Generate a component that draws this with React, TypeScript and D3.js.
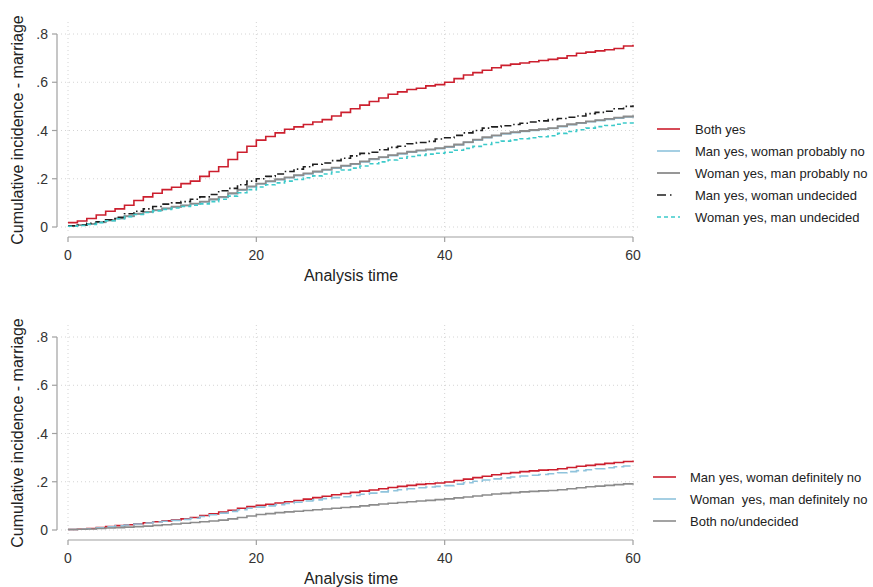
import React from "react";
import * as d3 from "d3";

const months = d3.range(0, 61);

const topBothYes = [0.018,0.025,0.035,0.05,0.065,0.075,0.09,0.11,0.125,0.14,0.155,0.165,0.18,0.19,0.21,0.23,0.25,0.28,0.31,0.335,0.36,0.375,0.39,0.405,0.415,0.425,0.435,0.445,0.46,0.475,0.49,0.505,0.52,0.535,0.55,0.56,0.57,0.575,0.585,0.59,0.6,0.615,0.63,0.64,0.65,0.66,0.67,0.675,0.68,0.685,0.69,0.695,0.7,0.71,0.72,0.725,0.73,0.735,0.74,0.75,0.755];
const topManYesWomanProbNo = [0.004,0.007,0.012,0.019,0.027,0.035,0.044,0.054,0.062,0.069,0.076,0.083,0.089,0.096,0.104,0.113,0.123,0.138,0.153,0.166,0.178,0.188,0.196,0.204,0.213,0.22,0.228,0.236,0.244,0.252,0.26,0.27,0.28,0.288,0.296,0.303,0.31,0.316,0.32,0.325,0.331,0.34,0.35,0.36,0.37,0.378,0.386,0.391,0.396,0.4,0.404,0.408,0.416,0.424,0.43,0.436,0.441,0.446,0.451,0.456,0.461];
const topWomanYesManProbNo = [0.005,0.008,0.013,0.02,0.028,0.036,0.045,0.055,0.063,0.07,0.077,0.084,0.09,0.097,0.105,0.115,0.125,0.14,0.155,0.168,0.18,0.19,0.198,0.206,0.215,0.222,0.23,0.238,0.246,0.254,0.262,0.272,0.282,0.29,0.298,0.305,0.312,0.318,0.322,0.327,0.333,0.342,0.352,0.362,0.372,0.38,0.388,0.393,0.398,0.402,0.406,0.41,0.418,0.426,0.432,0.438,0.443,0.448,0.453,0.458,0.463];
const topManYesWomanUndecided = [0.005,0.008,0.015,0.022,0.03,0.04,0.055,0.065,0.075,0.085,0.095,0.1,0.105,0.115,0.125,0.135,0.15,0.16,0.175,0.19,0.2,0.21,0.22,0.23,0.24,0.25,0.26,0.265,0.275,0.285,0.295,0.305,0.31,0.32,0.33,0.335,0.345,0.35,0.355,0.365,0.37,0.38,0.39,0.4,0.41,0.415,0.42,0.425,0.43,0.435,0.44,0.445,0.45,0.455,0.46,0.47,0.475,0.48,0.49,0.5,0.505];
const topWomanYesManUndecided = [0.003,0.006,0.011,0.018,0.026,0.034,0.043,0.052,0.06,0.067,0.073,0.079,0.085,0.09,0.096,0.105,0.115,0.128,0.142,0.155,0.166,0.175,0.183,0.19,0.197,0.204,0.212,0.22,0.228,0.236,0.244,0.253,0.262,0.27,0.278,0.285,0.292,0.297,0.302,0.306,0.31,0.318,0.326,0.334,0.342,0.35,0.356,0.361,0.366,0.37,0.374,0.378,0.388,0.396,0.403,0.41,0.416,0.421,0.426,0.431,0.436];

const botManYesWomanDefNo = [0.002,0.003,0.006,0.01,0.014,0.018,0.022,0.026,0.03,0.034,0.038,0.042,0.046,0.052,0.06,0.067,0.074,0.082,0.09,0.097,0.102,0.107,0.112,0.117,0.122,0.128,0.134,0.14,0.146,0.151,0.156,0.161,0.166,0.171,0.176,0.181,0.185,0.189,0.192,0.195,0.199,0.205,0.211,0.217,0.223,0.229,0.234,0.238,0.242,0.245,0.248,0.25,0.254,0.259,0.264,0.268,0.272,0.276,0.28,0.284,0.288];
const botWomanYesManDefNo = [0.002,0.003,0.005,0.009,0.013,0.017,0.021,0.025,0.029,0.033,0.036,0.04,0.044,0.049,0.056,0.063,0.07,0.077,0.084,0.09,0.095,0.1,0.105,0.11,0.115,0.12,0.125,0.13,0.134,0.138,0.143,0.148,0.153,0.158,0.163,0.167,0.171,0.175,0.178,0.181,0.184,0.19,0.196,0.202,0.207,0.212,0.216,0.22,0.224,0.227,0.23,0.233,0.237,0.242,0.246,0.25,0.254,0.258,0.262,0.265,0.268];
const botBothNoUndecided = [0.002,0.003,0.004,0.006,0.008,0.01,0.012,0.014,0.016,0.019,0.022,0.025,0.028,0.031,0.034,0.037,0.041,0.046,0.052,0.058,0.064,0.068,0.072,0.075,0.078,0.081,0.084,0.087,0.09,0.093,0.096,0.1,0.104,0.108,0.111,0.114,0.117,0.12,0.123,0.126,0.129,0.133,0.137,0.141,0.145,0.149,0.152,0.155,0.158,0.16,0.162,0.164,0.167,0.171,0.175,0.179,0.182,0.185,0.188,0.191,0.194];

const yTicks = [0, 0.2, 0.4, 0.6, 0.8];
const yTickLabels = ["0", ".2", ".4", ".6", ".8"];
const xTicks = [0, 20, 40, 60];

type Series = { name: string; values: number[]; color: string; dash?: string; legendDash?: string; width: number };

const topSeries: Series[] = [
  { name: "Both yes", values: topBothYes, color: "#cc1f2e", width: 1.6 },
  { name: "Man yes, woman probably no", values: topManYesWomanProbNo, color: "#8fc3dc", width: 1.6 },
  { name: "Woman yes, man probably no", values: topWomanYesManProbNo, color: "#8c8c8c", width: 1.8 },
  { name: "Man yes, woman undecided", values: topManYesWomanUndecided, color: "#1e1e1e", dash: "7,3,1.5,3", legendDash: "9,4,1.5,9", width: 1.6 },
  { name: "Woman yes, man undecided", values: topWomanYesManUndecided, color: "#3ccaca", dash: "4,3", legendDash: "4,3", width: 1.6 },
];

const botSeries: Series[] = [
  { name: "Man yes, woman definitely no", values: botManYesWomanDefNo, color: "#cc1f2e", width: 1.6 },
  { name: "Woman  yes, man definitely no", values: botWomanYesManDefNo, color: "#8fc3dc", dash: "10,4", width: 1.6 },
  { name: "Both no/undecided", values: botBothNoUndecided, color: "#8c8c8c", width: 1.6 },
];

const FONT = "'Liberation Sans', Arial, sans-serif";

function Panel({ top, series, legendTop, legendX0, legendX1, legendTextX }: { top: number; series: Series[]; legendTop: number; legendX0: number; legendX1: number; legendTextX: number }) {
  const x = d3.scaleLinear().domain([0, 60]).range([68, 633]);
  const y = d3.scaleLinear().domain([0, 0.8]).range([top + 205, top + 12]);
  const plotTop = top;
  const plotBottom = top + 210;
  const xAxisY = top + 215;
  const yAxisX = 57;
  const line = d3
    .line<number>()
    .x((_, i) => x(months[i]))
    .y((d) => y(d))
    .curve(d3.curveStepAfter);
  return (
    <g>
      {/* grid */}
      {yTicks.map((t) => (
        <line key={"gy" + t} x1={61} x2={640} y1={y(t)} y2={y(t)} stroke="#d4d4d4" strokeWidth={1} strokeDasharray="1,3" />
      ))}
      {xTicks.map((t) => (
        <line key={"gx" + t} x1={x(t)} x2={x(t)} y1={plotTop} y2={plotBottom} stroke="#d4d4d4" strokeWidth={1} strokeDasharray="1,3" />
      ))}
      {/* axes */}
      <line x1={yAxisX} x2={yAxisX} y1={y(0.8)} y2={y(0)} stroke="#a0a0a0" strokeWidth={1.2} />
      {yTicks.map((t, i) => (
        <g key={"yt" + t}>
          <line x1={yAxisX - 5} x2={yAxisX} y1={y(t)} y2={y(t)} stroke="#a0a0a0" strokeWidth={1.2} />
          <text x={48} y={y(t)} dy="0.36em" textAnchor="end" fontSize={14} fill="#333" fontFamily={FONT}>
            {yTickLabels[i]}
          </text>
        </g>
      ))}
      <line x1={x(0)} x2={x(60)} y1={xAxisY} y2={xAxisY} stroke="#a0a0a0" strokeWidth={1.2} />
      {xTicks.map((t) => (
        <g key={"xt" + t}>
          <line x1={x(t)} x2={x(t)} y1={xAxisY} y2={xAxisY + 5} stroke="#a0a0a0" strokeWidth={1.2} />
          <text x={x(t)} y={xAxisY + 23} textAnchor="middle" fontSize={14} fill="#333" fontFamily={FONT}>
            {t}
          </text>
        </g>
      ))}
      <text x={351} y={xAxisY + 44} textAnchor="middle" fontSize={16} fill="#222" fontFamily={FONT}>
        Analysis time
      </text>
      <text transform={`translate(23, ${top + 108}) rotate(-90)`} textAnchor="middle" fontSize={16} fill="#222" fontFamily={FONT}>
        Cumulative incidence - marriage
      </text>
      {/* lines */}
      {series.map((s) => (
        <path key={s.name} d={line(s.values) || ""} fill="none" stroke={s.color} strokeWidth={s.width} strokeDasharray={s.dash} />
      ))}
      {/* legend */}
      {series.map((s, i) => {
        const ly = legendTop + i * 22;
        return (
          <g key={"lg" + s.name}>
            <line x1={legendX0} x2={legendX1} y1={ly} y2={ly} stroke={s.color} strokeWidth={s.width} strokeDasharray={s.legendDash} />
            <text x={legendTextX} y={ly} dy="0.36em" fontSize={13} fill="#222" fontFamily={FONT} style={{ whiteSpace: "pre" }}>
              {s.name}
            </text>
          </g>
        );
      })}
    </g>
  );
}

export default function App() {
  return (
    <svg width={873} height={587} style={{ position: "absolute", left: 0, top: 0, background: "#fff" }}>
      <rect x={0} y={0} width={873} height={587} fill="#fff" />
      <Panel top={22} series={topSeries} legendTop={129} legendX0={657} legendX1={680} legendTextX={695} />
      <Panel top={325} series={botSeries} legendTop={477} legendX0={653} legendX1={676} legendTextX={690} />
    </svg>
  );
}
